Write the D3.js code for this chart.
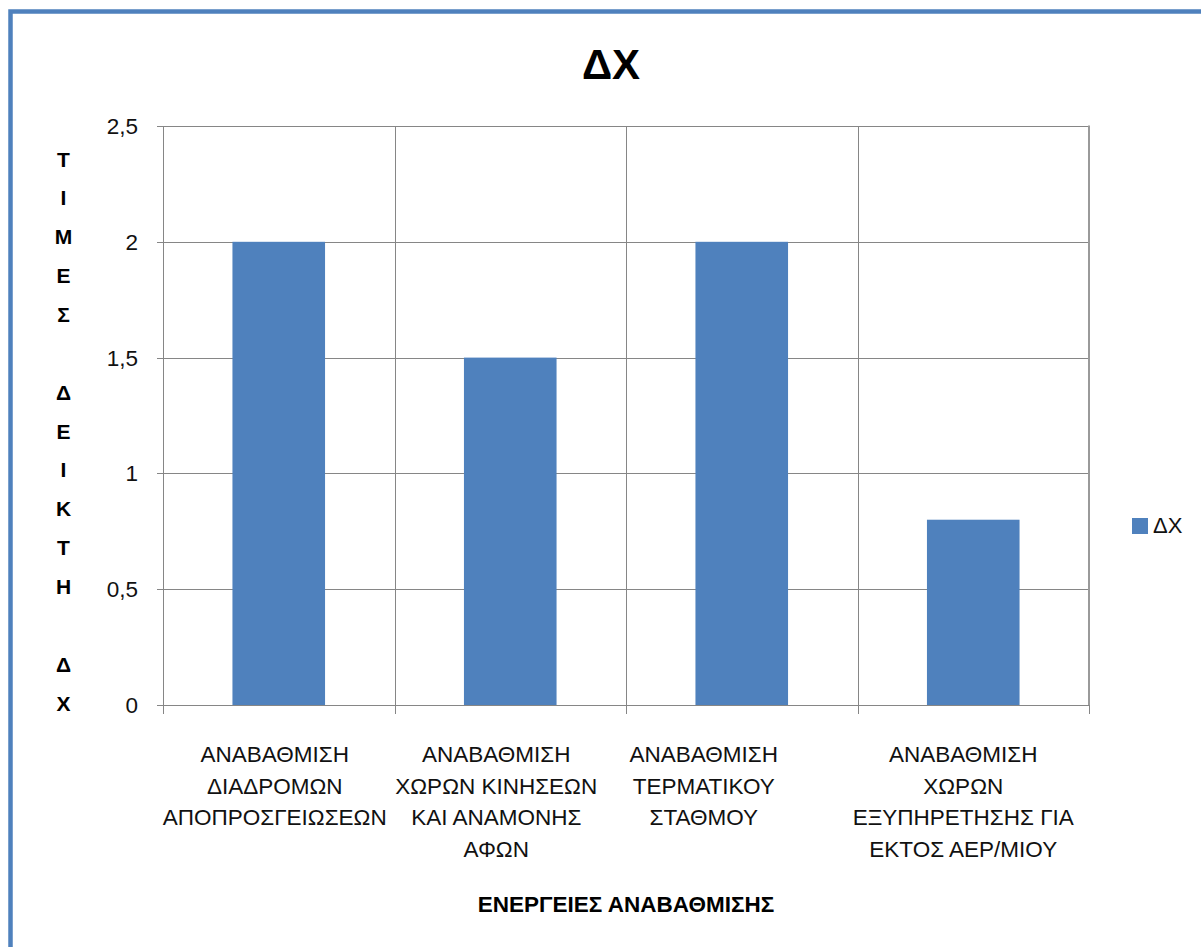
<!DOCTYPE html>
<html>
<head>
<meta charset="utf-8">
<script src="https://cdn.jsdelivr.net/npm/d3@7"></script>
<style>
  html, body { margin: 0; padding: 0; background: #fff; }
  svg { display: block; font-family: "Liberation Sans", Arial, sans-serif; }
</style>
</head>
<body>
<svg id="chart" width="1201" height="947"></svg>
<script>
// Chart data
const categories = [
  ["ΑΝΑΒΑΘΜΙΣΗ", "ΔΙΑΔΡΟΜΩΝ", "ΑΠΟΠΡΟΣΓΕΙΩΣΕΩΝ"],
  ["ΑΝΑΒΑΘΜΙΣΗ", "ΧΩΡΩΝ ΚΙΝΗΣΕΩΝ", "ΚΑΙ ΑΝΑΜΟΝΗΣ", "ΑΦΩΝ"],
  ["ΑΝΑΒΑΘΜΙΣΗ", "ΤΕΡΜΑΤΙΚΟΥ", "ΣΤΑΘΜΟΥ"],
  ["ΑΝΑΒΑΘΜΙΣΗ", "ΧΩΡΩΝ", "ΕΞΥΠΗΡΕΤΗΣΗΣ ΓΙΑ", "ΕΚΤΟΣ ΑΕΡ/ΜΙΟΥ"]
];
const seriesName = "ΔΧ";
const values = [2, 1.5, 2, 0.8];
const yTicks = [0, 0.5, 1, 1.5, 2, 2.5];
const chartTitle = "ΔΧ";
const xTitle = "ΕΝΕΡΓΕΙΕΣ ΑΝΑΒΑΘΜΙΣΗΣ";
const yTitle = "ΤΙΜΕΣ ΔΕΙΚΤΗ ΔΧ";

// Layout
const W = 1201, H = 947;
const plot = { left: 163, right: 1089, top: 126, bottom: 705 };
const barColor = "#4F81BD";
const gridColor = "#868686";
const labelShift = [-4, -14, -38, -10];

const svg = d3.select("#chart");
svg.append("rect").attr("width", W).attr("height", H).attr("fill", "#fff");

// Frame border (left and top edges)
svg.append("path")
  .attr("d", `M10.5,${H} L10.5,11.5 L${W},11.5`)
  .attr("fill", "none")
  .attr("stroke", barColor)
  .attr("stroke-width", 4.5);

const x = d3.scaleBand()
  .domain(d3.range(categories.length))
  .range([plot.left, plot.right])
  .padding(0);

const y = d3.scaleLinear()
  .domain([0, d3.max(yTicks)])
  .range([plot.bottom, plot.top]);

// Horizontal gridlines
svg.append("g").selectAll("line").data(yTicks).join("line")
  .attr("x1", plot.left - 6).attr("x2", plot.right)
  .attr("y1", d => Math.round(y(d)) + 0.5).attr("y2", d => Math.round(y(d)) + 0.5)
  .attr("stroke", gridColor).attr("stroke-width", 1);

// Vertical gridlines at category boundaries
const bounds = d3.range(categories.length + 1).map(i =>
  i < categories.length ? x(i) : plot.right);
svg.append("g").selectAll("line").data(bounds).join("line")
  .attr("x1", d => Math.round(d) + 0.5).attr("x2", d => Math.round(d) + 0.5)
  .attr("y1", plot.top).attr("y2", plot.bottom + 9)
  .attr("stroke", gridColor).attr("stroke-width", 1);

// Right border of the plot area
svg.append("line")
  .attr("x1", plot.right).attr("x2", plot.right)
  .attr("y1", plot.top - 0.5).attr("y2", plot.bottom)
  .attr("stroke", "#9a9a9a").attr("stroke-width", 2);

// Bars
const barW = x.bandwidth() * 0.4;
svg.append("g").selectAll("rect").data(values).join("rect")
  .attr("x", (d, i) => x(i) + (x.bandwidth() - barW) / 2)
  .attr("y", d => y(d))
  .attr("width", barW)
  .attr("height", d => y(0) - y(d))
  .attr("fill", barColor);

// Axis line along the bars' base
svg.append("line")
  .attr("x1", plot.left - 6).attr("x2", plot.right)
  .attr("y1", plot.bottom + 0.5).attr("y2", plot.bottom + 0.5)
  .attr("stroke", gridColor);

// Y tick labels
const fmt = d => String(d).replace(".", ",");
svg.append("g").selectAll("text").data(yTicks).join("text")
  .attr("x", 138)
  .attr("y", d => y(d) + 8)
  .attr("text-anchor", "end")
  .attr("font-size", 22.5)
  .attr("fill", "#111")
  .text(fmt);

// Category labels
const catG = svg.append("g");
categories.forEach((lines, i) => {
  const cx = x(i) + x.bandwidth() / 2 + labelShift[i];
  catG.append("text")
    .attr("text-anchor", "middle")
    .attr("font-size", 22.5)
    .attr("fill", "#111")
    .selectAll("tspan").data(lines).join("tspan")
    .attr("x", cx)
    .attr("y", (d, j) => 762 + j * 31.7)
    .text(d => d);
});

// Chart title
svg.append("text")
  .attr("x", 611).attr("y", 79)
  .attr("text-anchor", "middle")
  .attr("font-size", 42).attr("font-weight", "bold")
  .attr("fill", "#000")
  .text(chartTitle);

// X axis title
svg.append("text")
  .attr("x", 626).attr("y", 912)
  .attr("text-anchor", "middle")
  .attr("font-size", 22.5).attr("font-weight", "bold")
  .attr("fill", "#000")
  .text(xTitle);

// Y axis title, one letter per line
svg.append("g").selectAll("text").data(Array.from(yTitle)).join("text")
  .attr("x", 63.5)
  .attr("y", (d, i) => 159 + i * 38.86 + 7.5)
  .attr("text-anchor", "middle")
  .attr("font-size", 21).attr("font-weight", "bold")
  .attr("fill", "#000")
  .text(d => d);

// Legend
const leg = svg.append("g");
leg.append("rect")
  .attr("x", 1132).attr("y", 518).attr("width", 16).attr("height", 16)
  .attr("fill", barColor);
leg.append("text")
  .attr("x", 1153).attr("y", 533)
  .attr("font-size", 22).attr("fill", "#111")
  .text(seriesName);
</script>
</body>
</html>
